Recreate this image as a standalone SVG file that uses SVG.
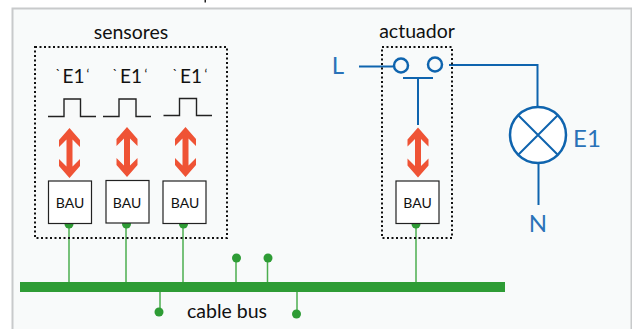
<svg xmlns="http://www.w3.org/2000/svg" width="632" height="329" viewBox="0 0 632 329">
<style>
text{font-family:Lato,"Noto Sans",sans-serif;fill:#111}
.lab{font-size:19.500px;text-anchor:middle}
.e1{font-size:19px;text-anchor:middle}
.q{font-size:13px;text-anchor:middle}
.bau{font-size:14px;text-anchor:middle}
.blue{font-size:24px;fill:#2a72b8;text-anchor:middle}
.dot{fill:none;stroke:#111;stroke-width:2;stroke-dasharray:2 2.500}
.pulse{fill:none;stroke:#222;stroke-width:1.400}
.arr{fill:#ef5335}
.box{fill:#fff;stroke:#222;stroke-width:1.200}
.g{stroke:#4cae4f;stroke-width:1.500;fill:none}
.gd{fill:#2e9c35}
.b{stroke:#0f64ae;stroke-width:2;fill:none}
</style>
<defs>
<path id="arrow" d="M0 -25L10.500 -13V-6L3 -13.500V13.500L10.500 6V13L0 25L-10.500 13V6L-3 13.500V-13.500L-10.500 -6V-13Z"/>
</defs>
<rect x="0" y="0" width="632" height="329" fill="#fff"/>
<rect x="12.500" y="8.500" width="619" height="325" fill="#f8fafa" stroke="#c8cacb" stroke-width="2"/>
<rect x="204.500" y="0" width="1.500" height="2.500" fill="#222"/>
<g id="connectors">
<line class="g" x1="69" y1="226" x2="69" y2="283"/>
<line class="g" x1="126" y1="226" x2="126" y2="283"/>
<line class="g" x1="183" y1="226" x2="183" y2="283"/>
<line class="g" x1="236" y1="258" x2="236" y2="283"/>
<line class="g" x1="267.500" y1="258" x2="267.500" y2="283"/>
<line class="g" x1="160" y1="292" x2="160" y2="312"/>
<line class="g" x1="297" y1="292" x2="297" y2="314"/>
<line class="g" x1="416" y1="226" x2="416" y2="283"/>
<path class="b" d="M359 66.500H393"/>
<path class="b" d="M449 65H537.500V107"/>
<path class="b" d="M403 78H433M418 78V125"/>
<path class="b" d="M538.500 163V205"/>
</g>
<g id="bus"><rect x="20" y="282" width="485" height="10" fill="#2e9c35"/></g>
<g id="sensores">
<text class="lab" x="131" y="39">sensores</text>
<rect class="dot" x="35" y="47" width="192" height="191"/>
</g>
<g id="sensor1">
<text class="e1" x="73.500" y="83">E1</text>
<text class="q" x="58" y="79">`</text>
<text class="q" x="88" y="79">‘</text>
<path class="pulse" d="M48 116.500H64V99H80.500V116.500H96"/>
<use href="#arrow" class="arr" x="69.500" y="153"/>
<circle class="gd" cx="69" cy="224" r="4.500"/>
<rect class="box" x="48.500" y="181" width="43" height="42.500"/>
<text class="bau" x="70" y="208">BAU</text>
</g>
<g id="sensor2">
<text class="e1" x="131" y="83">E1</text>
<text class="q" x="115" y="79">`</text>
<text class="q" x="146" y="79">‘</text>
<path class="pulse" d="M103 116.500H119V99H136V116.500H151"/>
<use href="#arrow" class="arr" x="127" y="152"/>
<circle class="gd" cx="126.500" cy="224" r="4.500"/>
<rect class="box" x="106" y="180.500" width="43" height="42.500"/>
<text class="bau" x="127" y="208">BAU</text>
</g>
<g id="sensor3">
<text class="e1" x="191" y="83">E1</text>
<text class="q" x="175" y="79">`</text>
<text class="q" x="206" y="79">‘</text>
<path class="pulse" d="M163.500 115.500H179.500V98.500H196.500V115.500H212"/>
<use href="#arrow" class="arr" x="185.500" y="152"/>
<circle class="gd" cx="183.500" cy="224" r="4.500"/>
<rect class="box" x="163" y="181" width="43" height="42.500"/>
<text class="bau" x="185" y="208">BAU</text>
</g>
<g id="actuador">
<text class="lab" x="417" y="38">actuador</text>
<rect class="dot" x="382" y="47" width="70" height="191"/>
<circle cx="401" cy="65.500" r="7" fill="#f8fafa" stroke="#0f64ae" stroke-width="2.500"/>
<circle cx="435" cy="64.500" r="7" fill="#f8fafa" stroke="#0f64ae" stroke-width="2.500"/>
<use href="#arrow" class="arr" x="418" y="152.500"/>
<circle class="gd" cx="416" cy="224" r="4.500"/>
<rect class="box" x="396" y="181" width="43" height="42.500"/>
<text class="bau" x="417.500" y="208">BAU</text>
</g>
<g id="lamp">
<circle cx="538" cy="135" r="28" fill="#fff" stroke="#0f64ae" stroke-width="2.500"/>
<path class="b" d="M518 115L558 155M558 115L518 155"/>
<text class="blue" x="587" y="147">E1</text>
</g>
<text class="blue" x="338" y="74">L</text>
<text class="blue" x="538" y="232">N</text>
<g id="bus-labels">
<circle class="gd" cx="236.500" cy="258" r="4.500"/>
<circle class="gd" cx="268" cy="258" r="4.500"/>
<circle class="gd" cx="159" cy="312" r="4.500"/>
<circle class="gd" cx="296.500" cy="314" r="4.500"/>
<text class="lab" x="227" y="318">cable bus</text>
</g>
</svg>
